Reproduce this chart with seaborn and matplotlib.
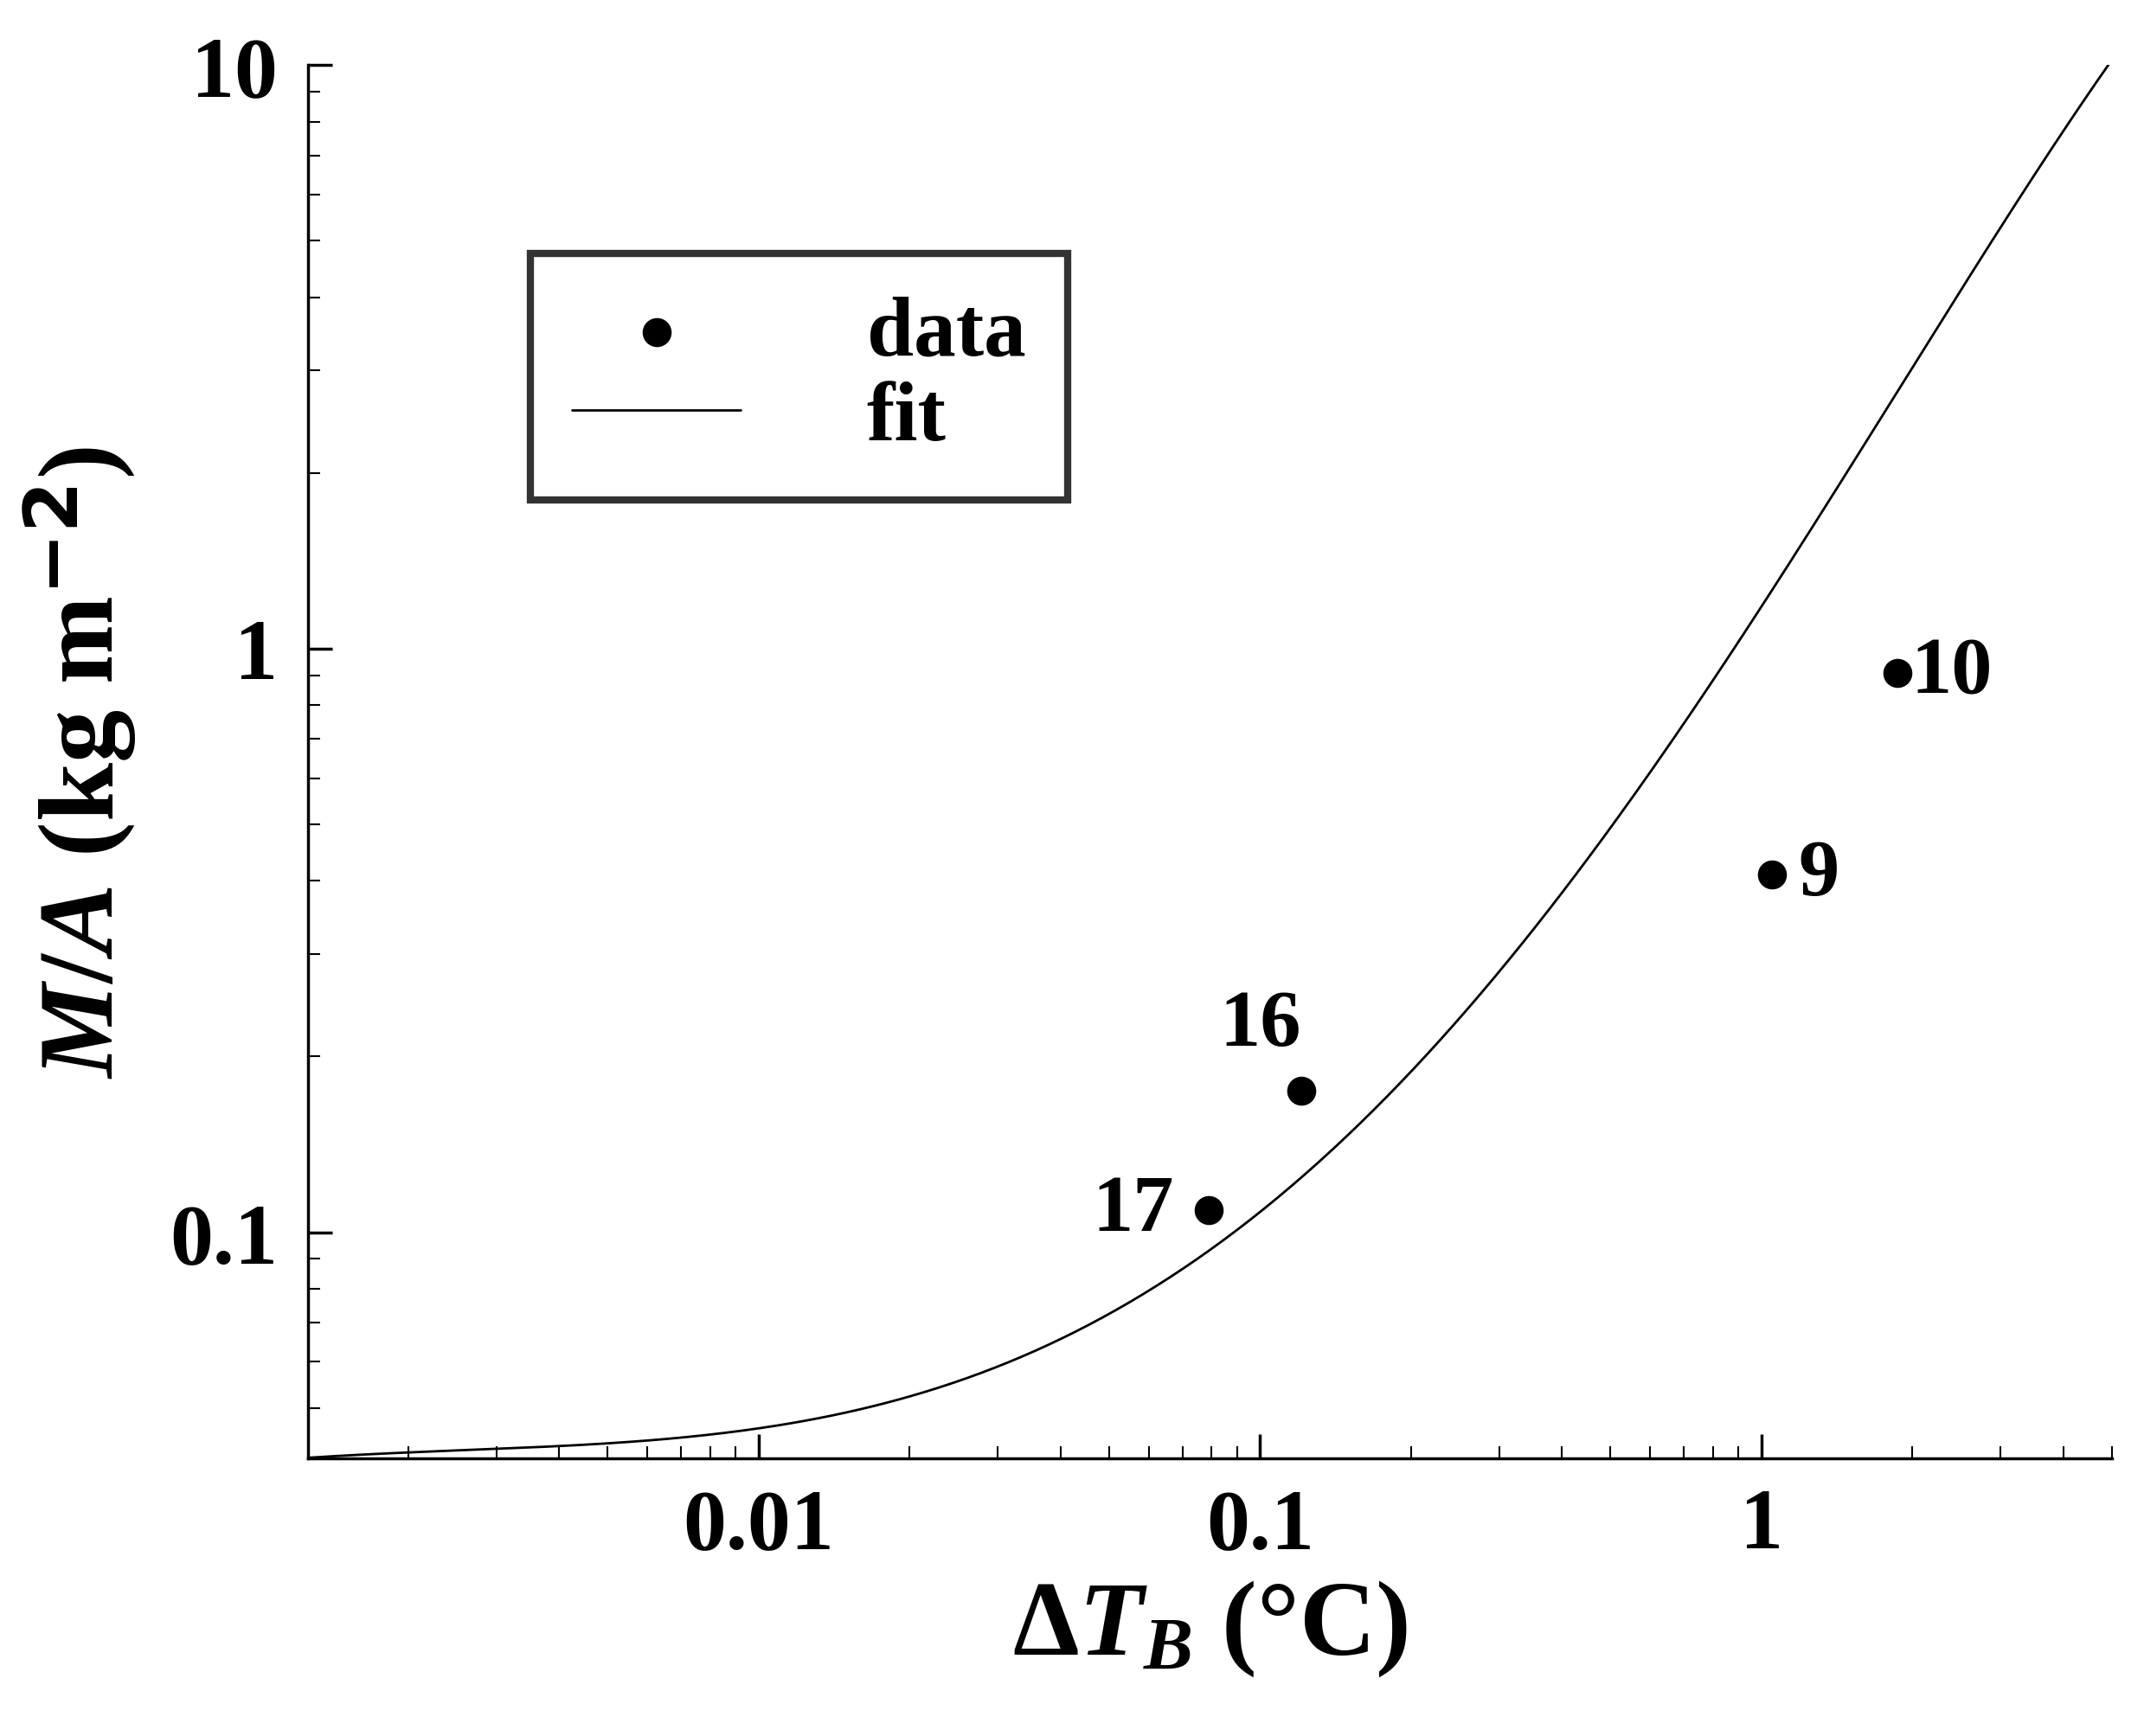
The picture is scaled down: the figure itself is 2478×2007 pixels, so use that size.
import numpy as np
import matplotlib
matplotlib.use("Agg")
import matplotlib.pyplot as plt
import seaborn as sns

dT = [0.079, 0.121, 1.05, 1.87]
MA = [0.109, 0.175, 0.41, 0.91]
labels = ["17", "16", "9", "10"]

fit_x = [0.00126, 0.003, 0.01, 0.03, 0.05, 0.1, 0.2, 0.5, 1.0, 2.0, 3.0, 4.95]
fit_y = [0.041, 0.0427, 0.0458, 0.0594, 0.0717, 0.11, 0.184, 0.51, 1.15, 3.0, 5.4, 10.0]

sns.set_theme(style="ticks")
plt.rcParams['font.family'] = ['Liberation Serif', 'DejaVu Serif']
plt.rcParams['mathtext.fontset'] = 'custom'
plt.rcParams['mathtext.it'] = 'Liberation Serif:italic:bold'
plt.rcParams['mathtext.rm'] = 'Liberation Serif:bold'
plt.rcParams['text.color'] = 'black'

fig = plt.figure(figsize=(24.78, 20.08), dpi=100)
ax = fig.add_axes([0.1435, 0.16, 0.8415, 0.802])

# smooth curve through the read points (log-log smoothing spline via polynomial)
lx = np.log10(fit_x); ly = np.log10(fit_y)
coef = np.polyfit(lx, ly, 5)
xs = np.logspace(lx[0], lx[-1], 400)
ys = 10 ** np.polyval(coef, np.log10(xs))
sns.lineplot(x=xs, y=ys, ax=ax, color="black", lw=2, label="fit", sort=False)
sns.scatterplot(x=dT, y=MA, ax=ax, color="black", s=500, edgecolor="black", label="data", zorder=5)

ax.set_xscale("log"); ax.set_yscale("log")
ax.set_xlim(0.00126, 5.0); ax.set_ylim(0.041, 10)

offs = {"17": (-40, "right"), "16": (None, None), "9": (30, "left"), "10": (15, "left")}
for x, y, t in zip(dT, MA, labels):
    if t == "16":
        ax.annotate(t, (x, y), xytext=(0, 75), textcoords="offset pixels", ha="right",
                    va="center", fontsize=68, fontweight="bold", color="black")
    else:
        dx, ha = offs[t]
        ax.annotate(t, (x, y), xytext=(dx, 0), textcoords="offset pixels", ha=ha,
                    va="center", fontsize=68, fontweight="bold", color="black")

for s in ["top", "right"]:
    ax.spines[s].set_visible(False)
for s in ["left", "bottom"]:
    ax.spines[s].set_color("black"); ax.spines[s].set_linewidth(2.5)
ax.set_xticks([0.01, 0.1, 1]); ax.set_xticklabels(["0.01", "0.1", "1"])
ax.set_yticks([0.1, 1, 10]); ax.set_yticklabels(["0.1", "1", "10"])
ax.tick_params(which="both", bottom=True, left=True, top=False, right=False)
ax.tick_params(which="major", direction="in", length=20, width=2.5, labelsize=72, pad=25,
               colors="black", labelcolor="black")
ax.tick_params(which="minor", direction="in", length=10, width=1.5, colors="black")
for lab in ax.get_xticklabels() + ax.get_yticklabels():
    lab.set_fontweight("bold")

ax.set_xlabel(r"$\Delta T_B$ (°C)", fontsize=88, fontweight="bold", labelpad=10, color="black")
ax.set_ylabel(r"$M/A$ (kg m$^{\mathbf{-2}}$)", fontsize=88, fontweight="bold", labelpad=25, color="black")

h, l = ax.get_legend_handles_labels()
leg = ax.legend([h[1], h[0]], [l[1], l[0]], loc="upper left", bbox_to_anchor=(0.1, 0.895),
                prop={"weight": "bold", "size": 70}, frameon=True, fancybox=False,
                edgecolor="black", handlelength=2.0, borderpad=0.5, labelspacing=0.1,
                handletextpad=1.5, markerscale=1.0)
leg.get_frame().set_linewidth(6)
for t in leg.get_texts():
    t.set_color("black")

fig.savefig("out.png", dpi=100, facecolor="white")
